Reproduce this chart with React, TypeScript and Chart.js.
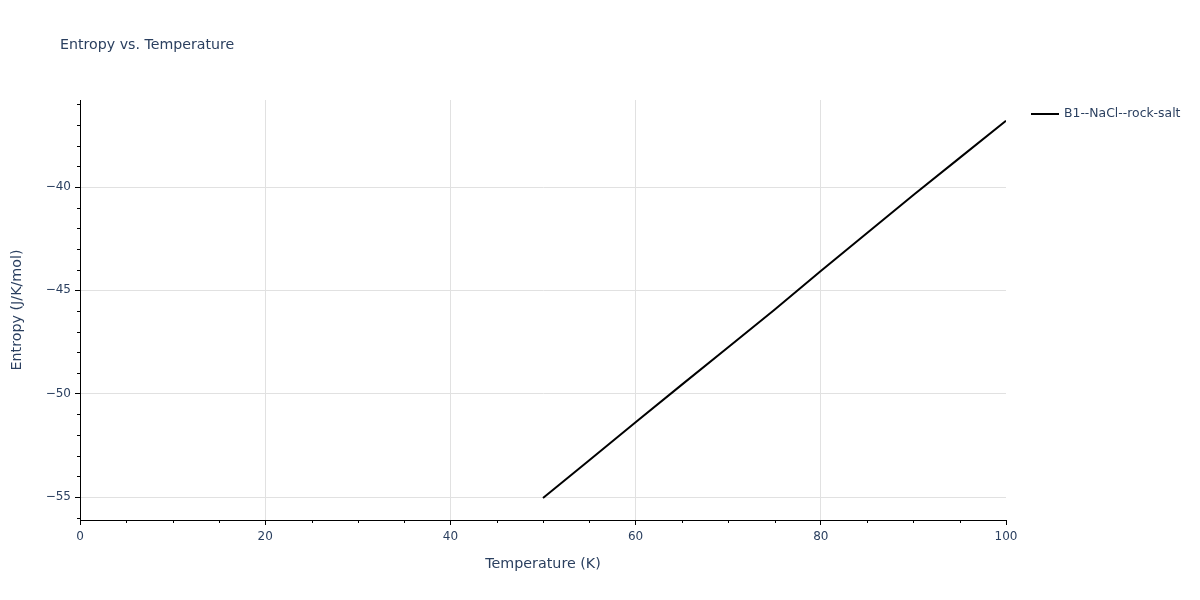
import React, { useEffect, useRef } from "react";
import { Chart, registerables } from "chart.js";

Chart.register(...registerables);

const TITLE = "Entropy vs. Temperature";
const SERIES_NAME = "B1--NaCl--rock-salt";
const temperatures = [50, 55, 60, 65, 70, 75, 80, 85, 90, 95, 100];
const entropy = [-55.05, -53.22, -51.38, -49.56, -47.75, -45.94, -44.06, -42.22, -40.39, -38.59, -36.79];
const xMajorTicks = [0, 20, 40, 60, 80, 100];
const xMinorTicks = [5, 10, 15, 25, 30, 35, 45, 50, 55, 65, 70, 75, 85, 90, 95];
const yMajorTicks = [-55, -50, -45, -40];
const yMinorTicks = [-56, -54, -53, -52, -51, -49, -48, -47, -46, -44, -43, -42, -41, -39, -38, -37, -36];

const FONT = "'DejaVu Sans', verdana, arial, sans-serif";
const TEXT_COLOR = "#2a3f5f";
const GRID_COLOR = "#e1e1e1";

const overlayPlugin = {
  id: "overlay",
  afterDraw(chart: any) {
    const ctx = chart.ctx as CanvasRenderingContext2D;
    const xs = chart.scales.x;
    const ys = chart.scales.y;
    const area = chart.chartArea;
    ctx.save();
    // minor ticks
    ctx.strokeStyle = "#000";
    ctx.lineWidth = 1;
    ctx.beginPath();
    for (const v of xMinorTicks) {
      const px = Math.round(xs.getPixelForValue(v)) + 0.5;
      ctx.moveTo(px, area.bottom);
      ctx.lineTo(px, area.bottom + 3);
    }
    for (const v of yMinorTicks) {
      const py = Math.round(ys.getPixelForValue(v)) + 0.5;
      ctx.moveTo(area.left, py);
      ctx.lineTo(area.left - 3, py);
    }
    ctx.stroke();
    // title
    ctx.fillStyle = TEXT_COLOR;
    ctx.font = `14.2px ${FONT}`;
    ctx.textAlign = "left";
    ctx.textBaseline = "middle";
    ctx.fillText(TITLE, 60, 45);
    // legend
    ctx.strokeStyle = "#000";
    ctx.lineWidth = 2;
    ctx.beginPath();
    ctx.moveTo(1031, 114);
    ctx.lineTo(1059, 114);
    ctx.stroke();
    ctx.font = `12.4px ${FONT}`;
    ctx.fillText(SERIES_NAME, 1064, 114);
    ctx.restore();
  },
};

export default function App() {
  const ref = useRef<HTMLCanvasElement | null>(null);
  useEffect(() => {
    if (!ref.current) return;
    const chart = new Chart(ref.current, {
      type: "line",
      data: {
        datasets: [
          {
            label: SERIES_NAME,
            data: temperatures.map((t, i) => ({ x: t, y: entropy[i] })),
            borderColor: "#000",
            borderWidth: 2,
            pointRadius: 0,
            fill: false,
            tension: 0,
          },
        ],
      },
      options: {
        animation: false,
        responsive: false,
        layout: { padding: { left: 0, top: 100, right: 194, bottom: 0 } },
        plugins: {
          legend: { display: false },
          title: { display: false },
          tooltip: { enabled: false },
        },
        scales: {
          x: {
            type: "linear",
            min: 0,
            max: 100,
            afterBuildTicks: (s: any) => {
              s.ticks = xMajorTicks.map((v) => ({ value: v }));
            },
            afterFit: (s: any) => {
              s.height = 80;
            },
            ticks: {
              color: TEXT_COLOR,
              font: { family: FONT, size: 12 },
              padding: 5,
              maxRotation: 0,
              autoSkip: false,
            },
            grid: {
              color: (c: any) => (c.tick && (c.tick.value === 0 || c.tick.value === 100) ? "rgba(0,0,0,0)" : GRID_COLOR),
              tickColor: "#000",
              tickLength: 5,
              lineWidth: 1,
            },
            border: { display: true, color: "#000", width: 1 },
            title: {
              display: true,
              text: "Temperature (K)",
              color: TEXT_COLOR,
              font: { family: FONT, size: 14.3 },
              padding: { top: 0, bottom: 27 },
            },
          },
          y: {
            type: "linear",
            min: -56.11,
            max: -35.79,
            afterBuildTicks: (s: any) => {
              s.ticks = yMajorTicks.map((v) => ({ value: v }));
            },
            afterFit: (s: any) => {
              s.width = 80;
            },
            ticks: {
              color: TEXT_COLOR,
              font: { family: FONT, size: 12 },
              padding: 4,
              autoSkip: false,
              callback: (v: any) => String(v).replace("-", "\u2212"),
            },
            grid: {
              color: GRID_COLOR,
              tickColor: "#000",
              tickLength: 5,
              lineWidth: 1,
            },
            border: { display: true, color: "#000", width: 1 },
            title: {
              display: true,
              text: "Entropy (J/K/mol)",
              color: TEXT_COLOR,
              font: { family: FONT, size: 14.3 },
              padding: { top: 9, bottom: 0 },
            },
          },
        },
      },
      plugins: [overlayPlugin],
    });
    return () => chart.destroy();
  }, []);
  return (
    <div style={{ position: "absolute", left: 0, top: 0, width: 1200, height: 600, background: "#fff" }}>
      <canvas ref={ref} width={1200} height={600} style={{ display: "block" }} />
    </div>
  );
}
